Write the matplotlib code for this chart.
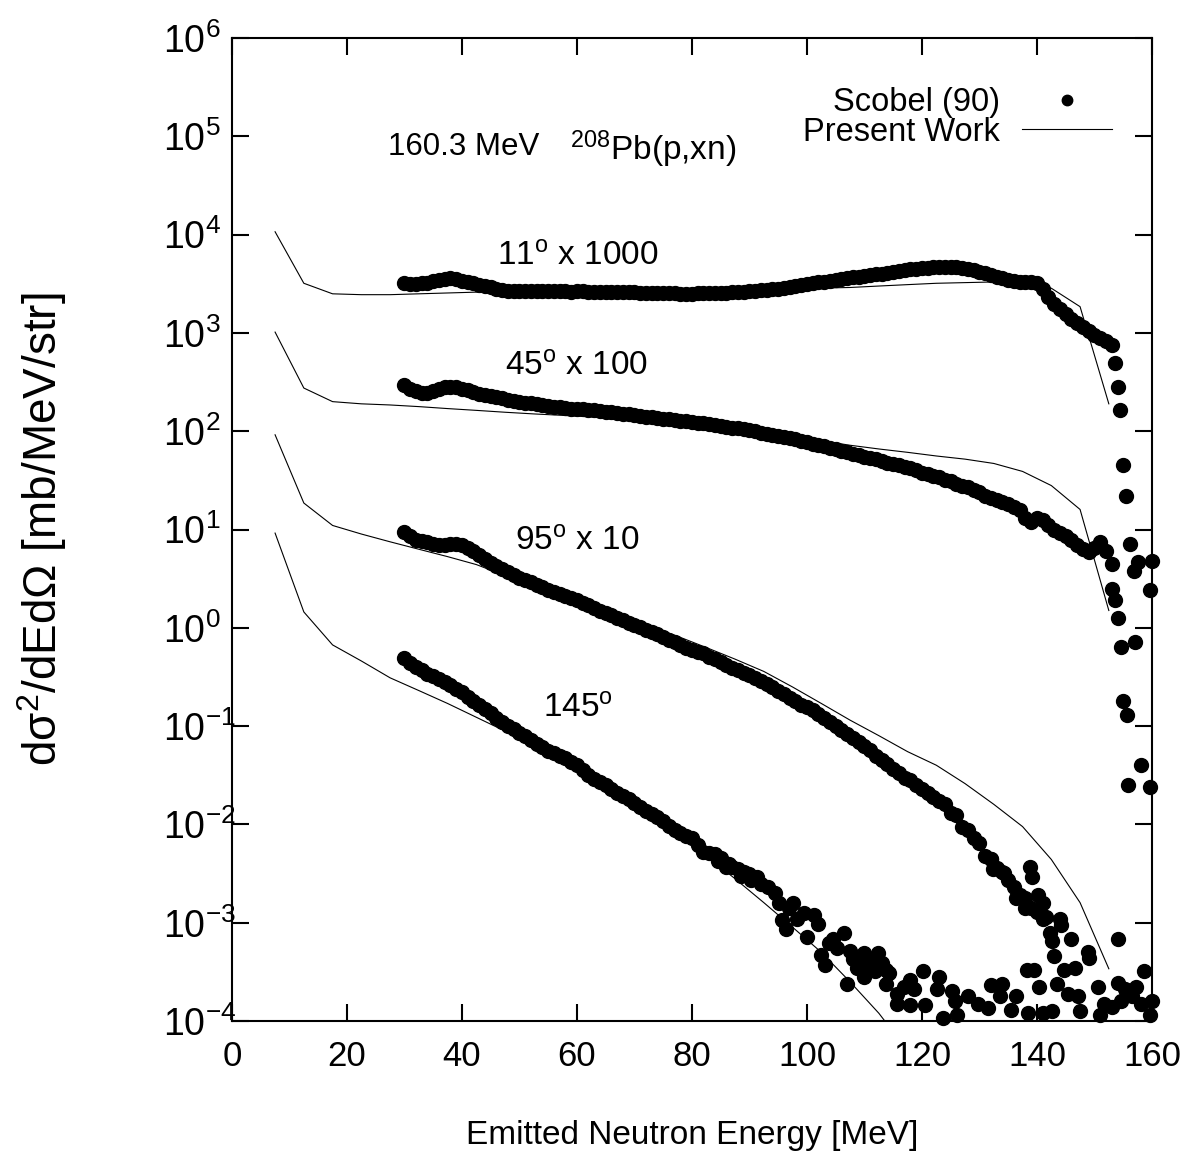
import matplotlib
matplotlib.use("Agg")
import matplotlib.pyplot as plt
from matplotlib.ticker import NullLocator

plt.rcParams["font.family"] = ["Liberation Sans", "DejaVu Sans"]
plt.rcParams["mathtext.fontset"] = "custom"
plt.rcParams["mathtext.rm"] = "Liberation Sans"
plt.rcParams["mathtext.it"] = "Liberation Sans:italic"
plt.rcParams["mathtext.bf"] = "Liberation Sans:bold"

# ---------- data: Scobel (90) measured points, scaled per angle ----------
e_band = [30, 31, 32, 33, 34, 35, 36, 37, 38, 39,
          40, 41, 42, 43, 44, 45, 46, 47, 48, 49,
          50, 51, 52, 53, 54, 55, 56, 57, 58, 59,
          60, 61, 62, 63, 64, 65, 66, 67, 68, 69,
          70, 71, 72, 73, 74, 75, 76, 77, 78, 79,
          80, 81, 82, 83, 84, 85, 86, 87, 88, 89,
          90, 91, 92, 93, 94, 95, 96, 97, 98, 99,
          100, 101, 102, 103, 104, 105, 106, 107, 108, 109,
          110, 111, 112, 113, 114, 115, 116, 117, 118, 119,
          120, 121, 122, 123, 124, 125, 126, 127, 128, 129,
          130, 131, 132, 133, 134, 135, 136, 137, 138, 139,
          140, 141, 142, 143, 144, 145, 146, 147, 148, 149,
          150, 151, 152, 153]

# 11 deg x 1000
sig11 = [3200, 3150, 3150, 3200, 3250, 3350, 3450, 3550, 3600, 3500,
         3400, 3300, 3200, 3100, 3000, 2900, 2800, 2750, 2700, 2680,
         2680, 2670, 2660, 2660, 2650, 2640, 2650, 2660, 2640, 2630,
         2640, 2650, 2630, 2620, 2610, 2620, 2600, 2590, 2600, 2580,
         2590, 2570, 2560, 2570, 2550, 2550, 2530, 2520, 2500, 2510,
         2500, 2520, 2530, 2550, 2540, 2550, 2570, 2580, 2600, 2620,
         2650, 2680, 2710, 2740, 2780, 2820, 2880, 2950, 3000, 3080,
         3150, 3200, 3280, 3330, 3400, 3450, 3520, 3600, 3670, 3720,
         3800, 3880, 3950, 4020, 4100, 4200, 4280, 4350, 4450, 4500,
         4550, 4600, 4650, 4680, 4700, 4700, 4650, 4600, 4500, 4350,
         4200, 4050, 3900, 3750, 3600, 3450, 3350, 3300, 3320, 3300,
         3250, 2800, 2300, 1950, 1750, 1550, 1400, 1270, 1160, 1050,
         960, 880, 820, 750]
tail11_e = [153.6, 154.1, 154.5, 155.0, 155.5, 156.1, 156.8, 157.6, 159.7, 160.0]
tail11 = [490, 280, 164, 45, 22, 7.2, 3.8, 4.7, 2.4, 4.8]

# 45 deg x 100
sig45 = [295, 270, 255, 245, 245, 255, 270, 283, 285, 280,
         270, 260, 250, 242, 235, 228, 222, 216, 210, 205,
         200, 196, 192, 188, 185, 182, 178, 175, 172, 170,
         169, 167, 165, 163, 161, 158, 156, 153, 151, 148,
         146, 144, 141, 139, 137, 134, 132, 130, 128, 126,
         124, 122, 120, 118, 115, 113, 111, 109, 107, 105,
         103, 100, 97, 94, 91, 89, 87, 85, 83, 80,
         77, 75, 72, 70, 68, 66, 63, 61, 59, 57,
         55, 53, 52, 50, 48, 46, 45, 43, 42, 40,
         38, 37, 35, 34, 32, 31, 29, 28, 27, 25,
         24, 22, 21, 20, 19, 18, 17, 15.8, 13, 12,
         13, 12.5, 11, 10, 9.2, 8.5, 7.8, 7.0, 6.3, 5.9,
         6.5, 7.5, 6.0, 4.5]
tail45_e = [153.1, 153.6, 154.1, 154.6, 155.0, 155.6, 157.1, 158.1, 155.9, 159.6]
tail45 = [2.5, 1.9, 1.25, 0.64, 0.18, 0.13, 0.71, 0.04, 0.025, 0.024]

# 95 deg x 10
sig95 = [9.5, 8.5, 7.9, 7.6, 7.4, 7.2, 7.0, 6.9, 7.1, 7.2,
         7.0, 6.5, 6.0, 5.5, 5.0, 4.6, 4.3, 4.0, 3.7, 3.45,
         3.25, 3.05, 2.9, 2.75, 2.6, 2.45, 2.32, 2.2, 2.1, 2.0,
         1.9, 1.8, 1.7, 1.6, 1.5, 1.42, 1.34, 1.27, 1.2, 1.13,
         1.07, 1.01, 0.96, 0.91, 0.86, 0.81, 0.76, 0.72, 0.67, 0.63,
         0.59, 0.57, 0.55, 0.51, 0.48, 0.45, 0.42, 0.39, 0.37, 0.35,
         0.33, 0.31, 0.29, 0.27, 0.25, 0.23, 0.21, 0.195, 0.18, 0.165,
         0.155, 0.145, 0.133, 0.12, 0.11, 0.1, 0.091, 0.083, 0.076, 0.069,
         0.063, 0.057, 0.05, 0.045, 0.041, 0.037, 0.033, 0.03, 0.028, 0.025,
         0.023, 0.021, 0.019, 0.0175, 0.016, 0.013, 0.0125, 0.0095, 0.0088, 0.0072,
         0.0065, 0.0048, 0.0045, 0.0036, 0.0033, 0.0027, 0.0023, 0.0019, 0.0018, 0.0014,
         0.0013, 0.0011]
tail95_e = [132.0, 132.3, 134.2, 138.8, 139.2, 136.4, 137.9, 140.1, 141.0, 141.6,
            144.1, 142.6, 142.9, 146.0, 149.1, 146.6, 144.7, 143.5, 145.4, 139.5,
            147.2, 147.5, 150.6, 151.6, 151.0, 154.1, 154.1, 155.3, 157.2, 156.5,
            154.7, 153.1, 158.1, 158.7, 160.0, 159.7, 142.3, 144.0, 148.9]
tail95 = [4.4e-3, 3.5e-3, 3.2e-3, 3.7e-3, 2.95e-3, 1.8e-3, 1.4e-3, 1.9e-3, 1.6e-3, 1.15e-3,
          9.5e-4, 6.5e-4, 4.6e-4, 6.8e-4, 4.4e-4, 3.5e-4, 3.3e-4, 2.4e-4, 1.9e-4, 3.3e-4,
          1.8e-4, 1.26e-4, 2.2e-4, 1.5e-4, 1.15e-4, 6.8e-4, 2.45e-4, 2.1e-4, 2.2e-4, 1.8e-4,
          1.6e-4, 1.4e-4, 1.5e-4, 3.2e-4, 1.6e-4, 1.15e-4, 7.8e-4, 1.1e-3, 5.0e-4]

# 145 deg
sig145 = [0.49, 0.44, 0.40, 0.37, 0.34, 0.32, 0.30, 0.28, 0.26, 0.24,
          0.22, 0.20, 0.18, 0.165, 0.15, 0.135, 0.122, 0.11, 0.10, 0.093,
          0.086, 0.079, 0.072, 0.066, 0.061, 0.056, 0.053, 0.050, 0.047, 0.043,
          0.040, 0.036, 0.032, 0.029, 0.027, 0.025, 0.023, 0.021, 0.0195, 0.018,
          0.0165, 0.015, 0.0138, 0.0128, 0.0118, 0.0108, 0.0097, 0.0088, 0.0082, 0.0077,
          0.0072, 0.0062, 0.0053, 0.0051, 0.005, 0.0046, 0.0037, 0.0037, 0.0035, 0.0033,
          0.0031]
tail145_e = [91.3, 93.2, 94.4, 95.1, 95.7, 96.3, 97.5, 99.4, 100.0, 101.3,
             101.9, 102.5, 103.1, 103.8, 106.5, 106.9, 107.5, 108.7, 109.3, 110.0,
             110.0, 110.6, 111.2, 111.8, 112.4, 113.1, 113.7, 114.3, 113.7, 115.6,
             115.6, 116.8, 118.0, 118.7, 118.0, 120.2, 120.5, 123.0, 122.7, 123.6,
             125.2, 125.8, 126.1, 128.0, 129.8, 131.4, 132.0, 133.9, 133.6, 135.4,
             136.4, 138.2, 138.5, 140.4, 141.0, 142.6,
             84.5, 86.5, 88.5, 90.2, 92.0, 96.8, 98.2, 104.5, 105.2, 108.0,
             109.8, 111.5, 112.0]
tail145 = [2.95e-3, 2.3e-3, 2.0e-3, 1.6e-3, 1.07e-3, 8.7e-4, 1.6e-3, 1.26e-3, 7.2e-4, 1.2e-3,
           9.8e-4, 4.7e-4, 3.7e-4, 6.2e-4, 7.8e-4, 2.4e-4, 5.2e-4, 3.5e-4, 4.0e-4, 4.9e-4,
           2.8e-4, 3.5e-4, 4.2e-4, 3.2e-4, 4.9e-4, 3.9e-4, 3.3e-4, 3.1e-4, 2.4e-4, 1.9e-4,
           1.5e-4, 2.2e-4, 2.6e-4, 2.1e-4, 1.45e-4, 3.2e-4, 1.45e-4, 2.8e-4, 2.1e-4, 1.07e-4,
           2.0e-4, 1.6e-4, 1.15e-4, 1.8e-4, 1.5e-4, 1.35e-4, 2.35e-4, 2.4e-4, 1.8e-4, 1.3e-4,
           1.8e-4, 3.3e-4, 1.2e-4, 2.2e-4, 1.2e-4, 1.26e-4,
           4.2e-3, 4.0e-3, 3.0e-3, 2.7e-3, 2.5e-3, 1.4e-3, 1.1e-3, 6.8e-4, 5.5e-4, 4.3e-4,
           3.9e-4, 3.7e-4, 4.4e-4]

# ---------- data: Present Work (model) ----------
model_e = [7.5, 12.5, 17.5, 22.5, 27.5, 32.5, 37.5, 42.5, 47.5, 52.5,
           57.5, 62.5, 67.5, 72.5, 77.5, 82.5, 87.5, 92.5, 97.5, 102.5,
           107.5, 112.5, 117.5, 122.5, 127.5, 132.5, 137.5, 142.5, 147.5, 152.5]
mod11 = [1.07e4, 3.2e3, 2.5e3, 2.45e3, 2.45e3, 2.5e3, 2.55e3, 2.6e3, 2.6e3, 2.62e3,
         2.65e3, 2.68e3, 2.7e3, 2.72e3, 2.75e3, 2.77e3, 2.8e3, 2.82e3, 2.84e3, 2.86e3,
         2.9e3, 3.0e3, 3.1e3, 3.2e3, 3.25e3, 3.3e3, 3.1e3, 2.85e3, 1.85e3, 1.9e2]
mod45 = [1.02e3, 2.75e2, 2.0e2, 1.9e2, 1.85e2, 1.78e2, 1.7e2, 1.63e2, 1.56e2, 1.5e2,
         1.45e2, 1.4e2, 1.33e2, 1.26e2, 1.19e2, 1.12e2, 104, 96, 88, 80,
         72, 66, 61, 56, 52, 47, 39, 28, 16, 1.5]
mod95 = [92, 18.6, 11, 9.0, 7.5, 6.3, 5.3, 4.4, 3.4, 2.7,
         2.15, 1.7, 1.35, 1.05, 0.82, 0.63, 0.48, 0.36, 0.25, 0.17,
         0.115, 0.08, 0.055, 0.04, 0.026, 0.016, 9.5e-3, 4.4e-3, 1.6e-3, 3.4e-4]
mod145 = [9.2, 1.45, 0.67, 0.46, 0.31, 0.23, 0.17, 0.123, 0.089, 0.062,
          0.042, 0.028, 0.019, 0.012, 7.8e-3, 4.8e-3, 2.8e-3, 1.6e-3, 9e-4, 5e-4,
          2.5e-4, 1.2e-4, 5e-5]

exps = [-4, -3, -2, -1, 0, 1, 2, 3, 4, 5, 6]
xticks = [0, 20, 40, 60, 80, 100, 120, 140, 160]

fig = plt.figure(figsize=(11.92, 11.67), dpi=100)
ax = fig.add_axes([0.1946, 0.1251, 0.7718, 0.8423])

dot = dict(ls="none", marker="o", ms=10, color="black", clip_on=False)
line = dict(color="black", lw=0.8)

ax.plot(model_e, mod11, label="Present Work", **line)
ax.plot(model_e, mod45, **line)
ax.plot(model_e, mod95, **line)
ax.plot(model_e[:len(mod145)], mod145, **line)

ax.plot(e_band, sig11, label="Scobel (90)", **dot)
ax.plot(tail11_e, tail11, **dot)
ax.plot(e_band, sig45, **dot)
ax.plot(tail45_e, tail45, **dot)
ax.plot(e_band[:len(sig95)], sig95, **dot)
ax.plot(tail95_e, tail95, **dot)
ax.plot(e_band[:len(sig145)], sig145, **dot)
ax.plot(tail145_e, tail145, **dot)

ax.set_yscale("log")
ax.set_xlim(0, 160)
ax.set_ylim(1e-4, 1e6)
ax.set_xticks(xticks)
ax.set_xticklabels([str(v) for v in xticks])
ax.set_yticks([10.0 ** k for k in exps])
ax.set_yticklabels([r"$\mathregular{10^{%d}}$" % k for k in exps])
ax.yaxis.set_minor_locator(NullLocator())
ax.tick_params(direction="in", length=12, width=1.5, top=True, right=True)
ax.tick_params(axis="x", labelsize=25, pad=14)
ax.tick_params(axis="y", labelsize=27, pad=50)
for lab in ax.get_yticklabels():
    lab.set_horizontalalignment("left")
for s in ax.spines.values():
    s.set_linewidth(1.5)

ax.set_xlabel("Emitted Neutron Energy [MeV]", fontsize=24)
ax.xaxis.set_label_coords(0.5, -0.116)
ax.xaxis.label.set_va("center")
ax.set_ylabel(r"d$\mathregular{\sigma^{2}}$/dEd$\mathregular{\Omega}$ [mb/MeV/str]", fontsize=33)
ax.yaxis.set_label_coords(-0.2065, 0.5)
ax.yaxis.label.set_va("center")

# annotations
ax.text(0.170, 0.881, "160.3 MeV", fontsize=22.5, transform=ax.transAxes, va="baseline")
ax.text(0.367, 0.876, r"$\mathregular{^{208}}$Pb(p,xn)", fontsize=24, transform=ax.transAxes, va="baseline")
ax.text(0.288, 0.769, r"11$\mathregular{^{o}}$ x 1000", fontsize=24, transform=ax.transAxes, va="baseline")
ax.text(0.297, 0.657, r"45$\mathregular{^{o}}$ x 100", fontsize=24, transform=ax.transAxes, va="baseline")
ax.text(0.308, 0.479, r"95$\mathregular{^{o}}$ x 10", fontsize=24, transform=ax.transAxes, va="baseline")
ax.text(0.338, 0.309, r"145$\mathregular{^{o}}$", fontsize=24, transform=ax.transAxes, va="baseline")

h, l = ax.get_legend_handles_labels()
ax.legend(h[::-1], l[::-1], loc="upper right", bbox_to_anchor=(0.9565, 0.950),
          frameon=False, markerfirst=False, fontsize=23.5, handlelength=2.76,
          handletextpad=0.67, labelspacing=-0.04, borderpad=0, borderaxespad=0,
          markerscale=0.75)

fig.savefig("out.png", dpi=100)
